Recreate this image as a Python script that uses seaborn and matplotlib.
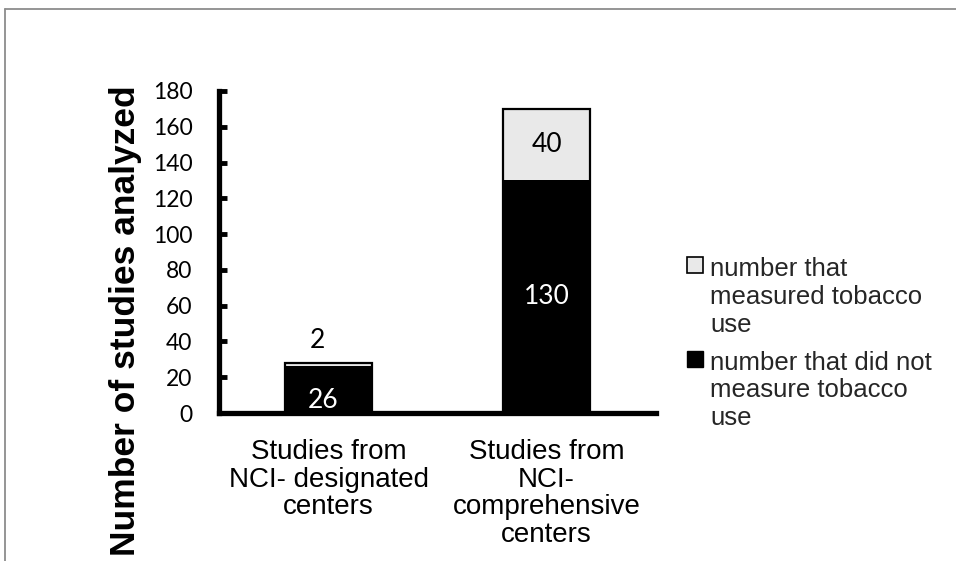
import matplotlib
matplotlib.use("Agg")
import matplotlib.pyplot as plt
from matplotlib.patches import Patch
from matplotlib.lines import Line2D
import seaborn as sns
import pandas as pd

# Study counts by center type
centers = ["Studies from\nNCI- designated\ncenters",
           "Studies from\nNCI-\ncomprehensive\ncenters"]
not_measured = [26, 130]
measured = [2, 40]
series_labels = ["number that\nmeasured tobacco\nuse",
                 "number that did not\nmeasure tobacco\nuse"]
y_ticks = [0, 20, 40, 60, 80, 100, 120, 140, 160, 180]

df = pd.DataFrame({
    "center": centers,
    "not_measured": not_measured,
    "measured": measured,
})
df["total"] = df["not_measured"] + df["measured"]

sns.set_theme(style="white")
plt.rcParams["font.family"] = ["Liberation Sans", "DejaVu Sans"]

fig = plt.figure(figsize=(9.56, 5.61), dpi=100)
ax = fig.add_axes([0.2296, 0.2638, 0.4561, 0.574])

light = "#e9e9e9"
# full stack (top segment colour), then the lower segment over it
sns.barplot(data=df, x="center", y="total", color=light, saturation=1,
            edgecolor="black", linewidth=1.6, width=0.4, ax=ax)
sns.barplot(data=df, x="center", y="not_measured", color="black",
            saturation=1, linewidth=0, width=0.4, ax=ax)

ax.set_xlim(-0.5, 1.5)
ax.set_ylim(0, 180)
ax.set_yticks(y_ticks)
ax.set_xlabel("")
ax.set_ylabel("")

for side in ["top", "right"]:
    ax.spines[side].set_visible(False)
for side in ["left", "bottom"]:
    ax.spines[side].set_color("black")
    ax.spines[side].set_linewidth(3.8)
ax.spines["bottom"].set_capstyle("projecting")

ax.tick_params(axis="y", direction="in", length=6, width=3.5, color="black",
               left=True, pad=19.5, labelsize=16.5, labelcolor="black")
for lbl in ax.get_yticklabels():
    lbl.set_fontfamily(["Lato", "DejaVu Sans"])
ax.tick_params(axis="x", length=0, pad=19, labelsize=20, labelcolor="black")
for lbl in ax.get_xticklabels():
    lbl.set_linespacing(1.07)
    lbl.set_verticalalignment("top")

# value labels
val_font = dict(family=["Lato", "DejaVu Sans"], fontsize=19)
for i, (lo, hi) in enumerate(zip(not_measured, measured)):
    total = lo + hi
    if lo < 60:
        ax.annotate(str(lo), (i, 0), xytext=(-4, 9), textcoords="offset points",
                    ha="center", va="center", color="white", **val_font)
        ax.annotate(str(hi), (i, total), xytext=(-8, 16), textcoords="offset points",
                    ha="center", va="center", color="black", **val_font)
    else:
        ax.text(i, lo / 2, str(lo), ha="center", va="center",
                color="white", **val_font)
        ax.text(i, lo + hi / 2, str(hi), ha="center", va="center",
                color="black", **val_font)

fig.text(126 / 956, 1 - 321 / 561, "Number of studies analyzed", rotation=90,
         ha="center", va="center", fontsize=25.5, fontweight="bold",
         color="black")

handles = [Patch(facecolor=light, edgecolor="black", linewidth=1.2),
           Patch(facecolor="black", edgecolor="black")]
leg = fig.legend(handles, series_labels, loc="upper left",
                 bbox_to_anchor=(0.719, 0.542), frameon=False, fontsize=18.5,
                 handlelength=0.6, handleheight=0.6, handletextpad=0.3,
                 labelspacing=0.55, borderpad=0, borderaxespad=0)
# keep each marker beside the first line of its wrapped label
for row in leg._legend_handle_box.get_children():
    for entry in row.get_children():
        entry.align = "top"

# outer frame lines
fig.add_artist(Line2D([5 / 956, 1.0], [1 - 9 / 561] * 2,
                      transform=fig.transFigure, color="#8c8c8c", linewidth=1.3))
fig.add_artist(Line2D([5 / 956] * 2, [0.0, 1 - 9 / 561],
                      transform=fig.transFigure, color="#8c8c8c", linewidth=1.3))

fig.savefig("out.png", dpi=100, facecolor="white")
